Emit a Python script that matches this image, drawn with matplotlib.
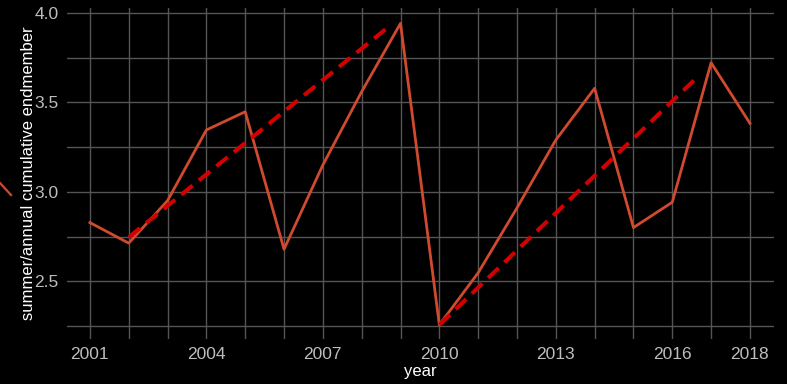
import matplotlib
matplotlib.use('Agg')
from matplotlib import pyplot as plt
from matplotlib.lines import Line2D

plt.rcParams['font.family'] = ['Liberation Sans', 'DejaVu Sans']

# endmember ratio per year
years = list(range(2001, 2019))
ratio = [2.828, 2.713, 2.951, 3.346, 3.448, 2.679, 3.150, 3.560, 3.942,
         2.256, 2.547, 2.910, 3.290, 3.579, 2.800, 2.942, 3.722, 3.383]

# dashed trend segments (start year, start value, end year, end value)
trend_x0 = [2002, 2010]
trend_y0 = [2.746, 2.256]
trend_x1 = [2008.75, 2016.7]
trend_y1 = [3.933, 3.653]

x_ticks = [2001, 2004, 2007, 2010, 2013, 2016, 2018]
y_ticks = [2.5, 3.0, 3.5, 4.0]

fig = plt.figure(figsize=(7.87, 3.84), dpi=100, facecolor='black')
ax = fig.add_axes([67 / 787, 45 / 384, 707 / 787, 331 / 384], facecolor='black')

# grid on every year and every 0.25
for yr in years:
    ax.axvline(yr, color='#555555', lw=1.0, zorder=0)
for v in [2.25, 2.5, 2.75, 3.0, 3.25, 3.5, 3.75, 4.0]:
    ax.axhline(v, color='#555555', lw=1.0, zorder=0)

ax.plot(years, ratio, color='#cf4a2e', lw=2.0, zorder=3)
for x0, y0, x1, y1 in zip(trend_x0, trend_y0, trend_x1, trend_y1):
    ax.plot([x0, x1], [y0, y1], color='#d40000', lw=2.9,
            dashes=(3.6, 2.0), solid_capstyle='butt', zorder=4)

ax.set_xlim(2000.41, 2018.62)
ax.set_ylim(2.177, 4.028)
ax.set_xticks(x_ticks)
ax.set_yticks(y_ticks)
ax.set_yticklabels(['2.5', '3.0', '3.5', '4.0'])
ax.tick_params(length=0, colors='#bdbdbd', labelsize=12.5, pad=6)
for s in ax.spines.values():
    s.set_visible(False)

ax.set_xlabel('year', color='white', fontsize=12, labelpad=1)
ax.set_ylabel('summer/annual cumulative endmember', color='white',
              fontsize=12, labelpad=-1)

# stray line stub at left edge
fig.add_artist(Line2D([0 / 787, 11 / 787], [1 - 183 / 384, 1 - 195 / 384],
                      color='#cf4a2e', lw=1.6, transform=fig.transFigure))

plt.savefig('out.png', dpi=100, facecolor='black')
